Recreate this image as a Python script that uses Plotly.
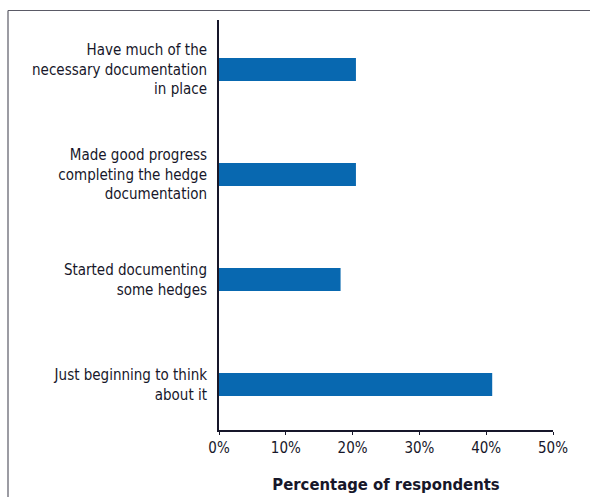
import plotly.graph_objects as go

categories = [
    "Have much of the<br>necessary documentation<br>in place",
    "Made good progress<br>completing the hedge<br>documentation",
    "Started documenting<br>some hedges",
    "Just beginning to think<br>about it",
]
values = [20.5, 20.5, 18.2, 40.9]
tick_vals = [0, 10, 20, 30, 40, 50]
tick_text = ["0%", "10%", "20%", "30%", "40%", "50%"]

FONT = "DejaVu Sans Condensed, Liberation Sans Narrow, Arial Narrow, sans-serif"
TEXT = "#17172a"

W, H = 590, 497
L, R, T, B = 219, 37, 20, 67

fig = go.Figure(
    go.Bar(
        x=values,
        y=list(range(len(categories))),
        orientation="h",
        width=0.22,
        marker=dict(color="#0868b0", line=dict(width=0)),
        hoverinfo="x",
    )
)

fig.update_layout(
    width=W,
    height=H,
    margin=dict(l=L, r=R, t=T, b=B, pad=0),
    paper_bgcolor="white",
    plot_bgcolor="white",
    showlegend=False,
    font=dict(family=FONT, color=TEXT),
    xaxis=dict(
        range=[0, 50],
        tickvals=tick_vals,
        ticktext=tick_text,
        tickfont=dict(size=15, color=TEXT),
        ticks="outside",
        ticklen=3,
        tickcolor=TEXT,
        showline=True,
        linecolor=TEXT,
        linewidth=2,
        showgrid=False,
        zeroline=False,
        fixedrange=True,
        automargin=False,
        title=dict(
            text="<b>Percentage of respondents</b>",
            font=dict(size=16.5, color=TEXT),
            standoff=22,
        ),
    ),
    yaxis=dict(
        range=[3.433, -0.471],
        tickvals=list(range(len(categories))),
        ticktext=categories,
        tickfont=dict(size=15, color=TEXT),
        ticks="outside",
        ticklen=7,
        tickcolor="rgba(0,0,0,0)",
        showline=True,
        linecolor=TEXT,
        linewidth=2,
        showgrid=False,
        zeroline=False,
        fixedrange=True,
        automargin=False,
    ),
)

# thin grey frame along the top and left edges of the page
pw = W - L - R
ph = H - T - B
def px_to_paper_x(px):
    return (px - L) / pw
def px_to_paper_y(py):
    return (H - B - py) / ph

frame_color = "#5a5a66"
fig.add_shape(type="line", xref="paper", yref="paper",
              x0=px_to_paper_x(8), x1=px_to_paper_x(W + 2),
              y0=px_to_paper_y(10.5), y1=px_to_paper_y(10.5),
              line=dict(color=frame_color, width=1.2))
fig.add_shape(type="line", xref="paper", yref="paper",
              x0=px_to_paper_x(8), x1=px_to_paper_x(8),
              y0=px_to_paper_y(10.5), y1=px_to_paper_y(H + 2),
              line=dict(color=frame_color, width=1.2))

fig.write_html("out.html")
